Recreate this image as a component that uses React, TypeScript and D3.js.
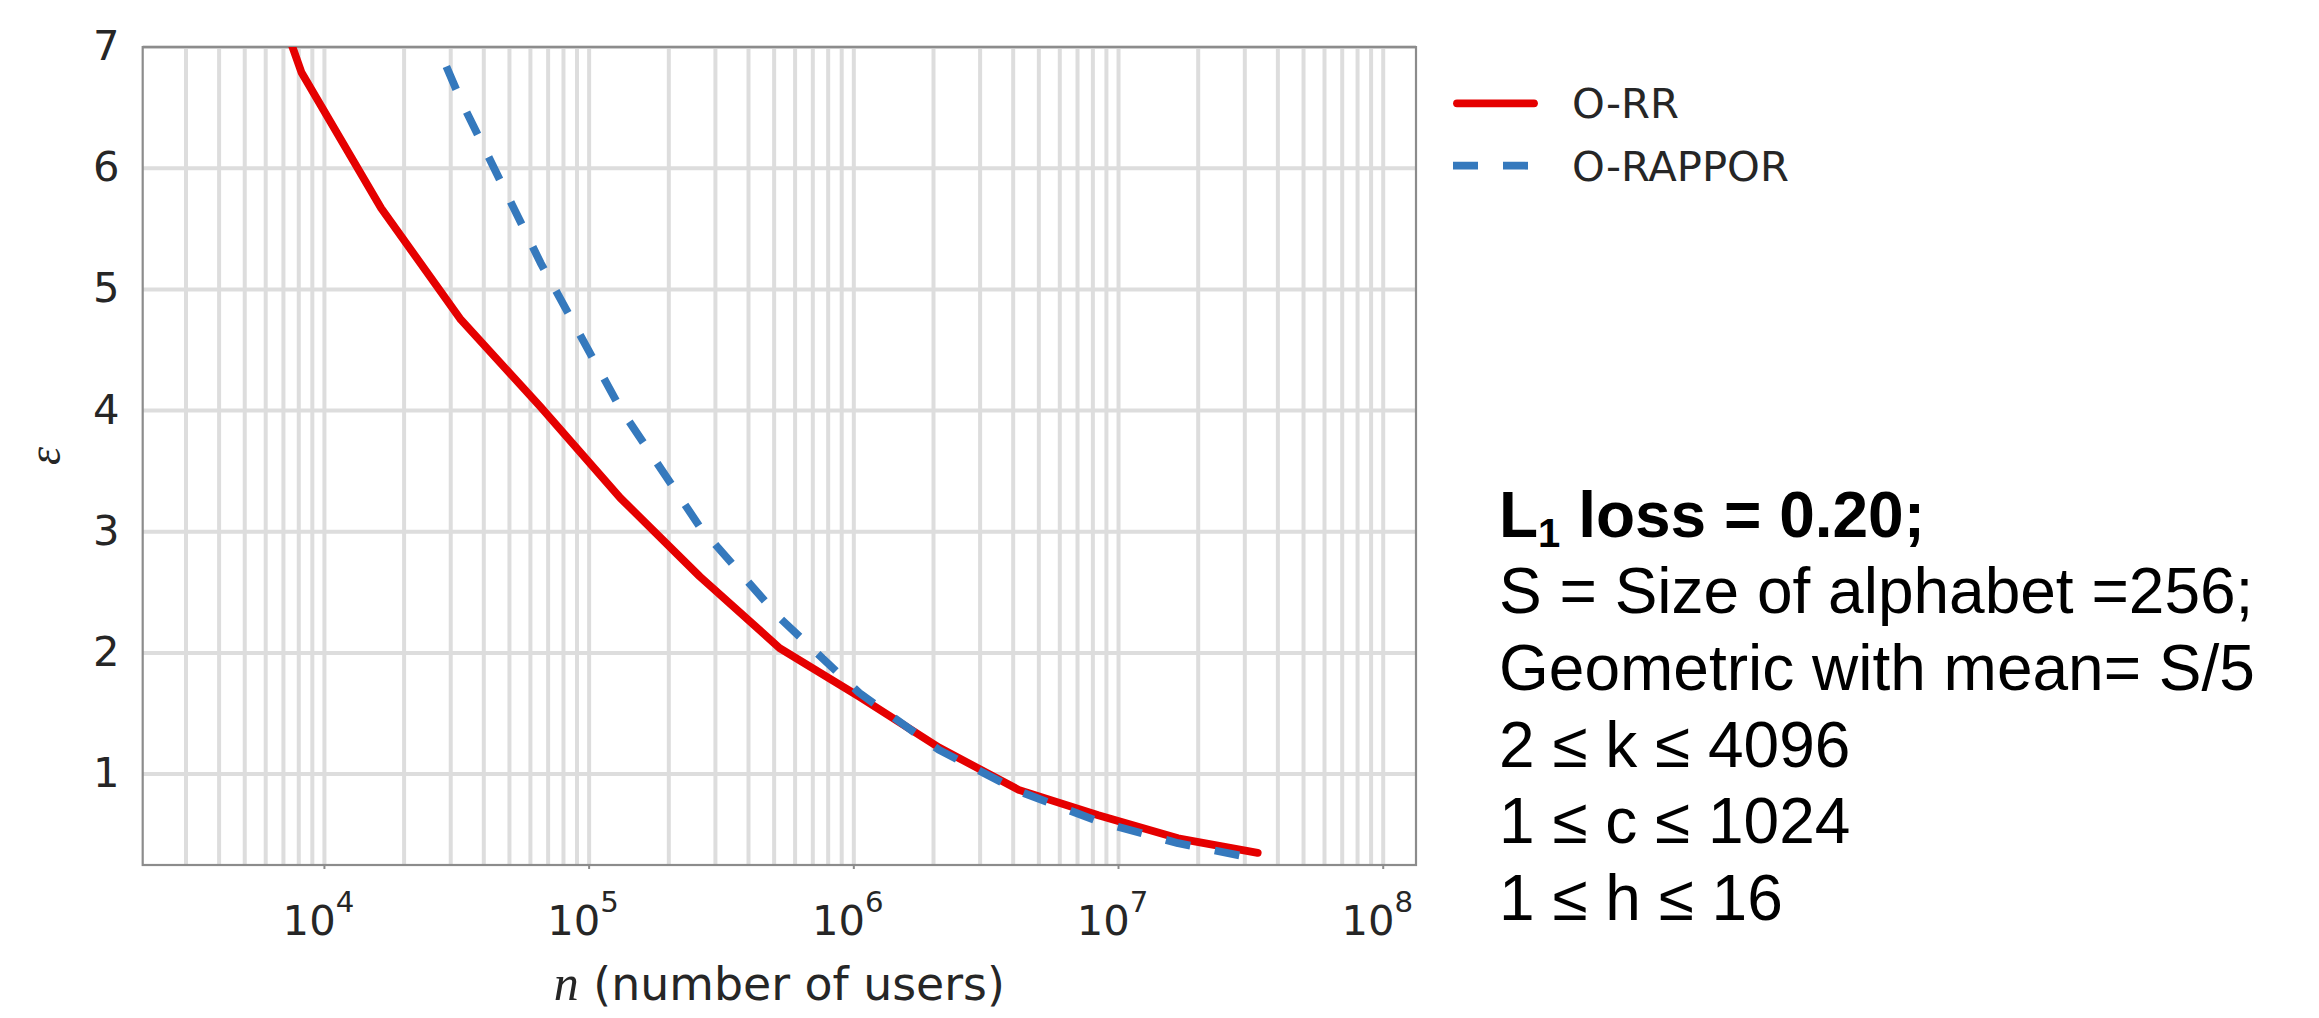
import React from "react";
import * as d3 from "d3";

// ---- data ----
const nUsersRR = [4096, 8192, 16384, 32768, 65536, 131072, 262144, 524288, 1048576, 2097152, 4194304, 8388608, 16777216, 33554432];
const epsRR = [8.65, 6.79, 5.67, 4.75, 4.03, 3.28, 2.63, 2.04, 1.64, 1.22, 0.87, 0.66, 0.47, 0.35];
const nUsersRappor = [16384, 32768, 65536, 131072, 262144, 524288, 1048576, 2097152, 4194304, 8388608, 16777216, 33554432];
const epsRappor = [8.1, 6.56, 5.22, 4.02, 3.04, 2.29, 1.67, 1.2, 0.86, 0.61, 0.43, 0.3];
const seriesNames = ["O-RR", "O-RAPPOR"];
const yTicks = [1, 2, 3, 4, 5, 6, 7];
const xTickExponents = [4, 5, 6, 7, 8];
const xDomain = [2058, 1.33e8];
const yDomain = [0.25, 7];
const annotationTitle = ["L", "1", " loss = 0.20;"];
const annotationLines = [
  "S = Size of alphabet =256;",
  "Geometric with mean= S/5",
  "2 \u2264 k \u2264 4096",
  "1 \u2264 c \u2264 1024",
  "1 \u2264 h \u2264 16",
];

const W = 2319;
const H = 1018;
const PL = 142.7, PR = 1416, PT = 47.1, PB = 865;
const RED = "#e50000";
const BLUE = "#3579bd";
const GRID = "#dddddd";
const SPINE = "#8c8c8c";
const TXT = "#262626";
const SANS = "'DejaVu Sans', sans-serif";
const SERIF = "'Liberation Serif', 'DejaVu Serif', serif";
const ARIAL = "'Liberation Sans', Arial, sans-serif";

export default function App() {
  const x = d3.scaleLog().domain(xDomain).range([PL, PR]);
  const y = d3.scaleLinear().domain(yDomain).range([PB, PT]);

  const minor: number[] = [];
  for (let d = 3; d <= 8; d++) {
    for (let m = 1; m <= 9; m++) {
      const v = m * Math.pow(10, d);
      if (v > xDomain[0] && v < xDomain[1]) minor.push(v);
    }
  }

  const line = d3.line<[number, number]>().x((d) => x(d[0])).y((d) => y(d[1]));
  const rrPts = nUsersRR.map((n, i) => [n, epsRR[i]] as [number, number]);
  const rpPts = nUsersRappor.map((n, i) => [n, epsRappor[i]] as [number, number]);

  // dash phase so the first visible dash starts a little below the top spine
  const p0 = [x(rpPts[0][0]), y(rpPts[0][1])];
  const p1 = [x(rpPts[1][0]), y(rpPts[1][1])];
  const t = (y(7) - p0[1]) / (p1[1] - p0[1]);
  const seg = Math.hypot(p1[0] - p0[0], p1[1] - p0[1]);
  const L0 = t * seg + 21;
  const dashOffset = (50 - (L0 % 50)) % 50;

  const lw = 7.8;
  const tickFs = 41.7;
  const legX0 = 1454;
  const legX1 = 1537;
  const legY = [103.3, 165.7];

  return (
    <svg width={W} height={H} style={{ position: "absolute", left: 0, top: 0, background: "#fff" }}>
      <defs>
        <clipPath id="plotclip">
          <rect x={PL} y={PT} width={PR - PL} height={PB - PT} />
        </clipPath>
      </defs>
      <rect x={0} y={0} width={W} height={H} fill="#fff" />
      {/* grid */}
      <g>
        {minor.map((v, i) => (
          <line key={"vg" + i} x1={x(v)} x2={x(v)} y1={PT} y2={PB} stroke={GRID} strokeWidth={4} />
        ))}
        {yTicks.map((v) => (
          <line key={"hg" + v} x1={PL} x2={PR} y1={y(v)} y2={y(v)} stroke={GRID} strokeWidth={4} />
        ))}
      </g>
      {/* spines */}
      <rect x={PL} y={PT} width={PR - PL} height={PB - PT} fill="none" stroke={SPINE} strokeWidth={2.2} />
      {/* x ticks */}
      {xTickExponents.map((e) => (
        <line key={"xt" + e} x1={x(Math.pow(10, e))} x2={x(Math.pow(10, e))} y1={PB} y2={PB + 4} stroke={SPINE} strokeWidth={2} />
      ))}
      {/* lines */}
      <g clipPath="url(#plotclip)">
        <path d={line(rrPts) || ""} fill="none" stroke={RED} strokeWidth={lw} strokeLinecap="round" strokeLinejoin="round" />
        <path
          d={line(rpPts) || ""}
          fill="none"
          stroke={BLUE}
          strokeWidth={lw}
          strokeDasharray="25 25"
          strokeDashoffset={dashOffset}
          strokeLinecap="butt"
          strokeLinejoin="round"
        />
      </g>
      {/* y tick labels */}
      {yTicks.map((v) => (
        <text key={"yl" + v} x={119.5} y={y(v) + 13} textAnchor="end" fontFamily={SANS} fontSize={tickFs} fill={TXT}>
          {v}
        </text>
      ))}
      {/* x tick labels */}
      {xTickExponents.map((e) => (
        <text key={"xl" + e} x={x(Math.pow(10, e)) - 6} y={935} textAnchor="middle" fontFamily={SANS} fontSize={tickFs} fill={TXT}>
          10
          <tspan fontSize={29.2} dy={-23.3}>
            {e}
          </tspan>
        </text>
      ))}
      {/* axis labels */}
      <text x={(PL + PR) / 2} y={1000} textAnchor="middle" fontFamily={SANS} fontSize={45.8} fill={TXT}>
        <tspan fontFamily={SERIF} fontStyle="italic" fontSize={50}>n</tspan>
        <tspan> (number of users)</tspan>
      </text>
      <text
        transform={`translate(${60},${(PT + PB) / 2}) rotate(-90)`}
        textAnchor="middle"
        fontFamily={SERIF}
        fontStyle="italic"
        fontSize={46}
        fill={TXT}
      >
        {"\u03b5"}
      </text>
      {/* legend */}
      <line x1={legX0 + 3} x2={legX1 - 3} y1={legY[0]} y2={legY[0]} stroke={RED} strokeWidth={lw} strokeLinecap="round" />
      <line x1={legX0 - 1} x2={legX1} y1={legY[1]} y2={legY[1]} stroke={BLUE} strokeWidth={lw} strokeDasharray="25 25" />
      {seriesNames.map((s, i) => (
        <text key={s} x={1572} y={legY[i] + 15} fontFamily={SANS} fontSize={tickFs} fill={TXT}>
          {s}
        </text>
      ))}
      {/* annotation */}
      <text x={1499} y={536.7} fontFamily={ARIAL} fontSize={64} fontWeight="bold" fill="#000">
        {annotationTitle[0]}
        <tspan fontSize={40} dy={10}>{annotationTitle[1]}</tspan>
        <tspan dy={-10}>{annotationTitle[2]}</tspan>
      </text>
      {annotationLines.map((s, i) => (
        <text key={"an" + i} x={1499} y={613.3 + i * 76.7} fontFamily={ARIAL} fontSize={64} fill="#000">
          {s}
        </text>
      ))}
    </svg>
  );
}
